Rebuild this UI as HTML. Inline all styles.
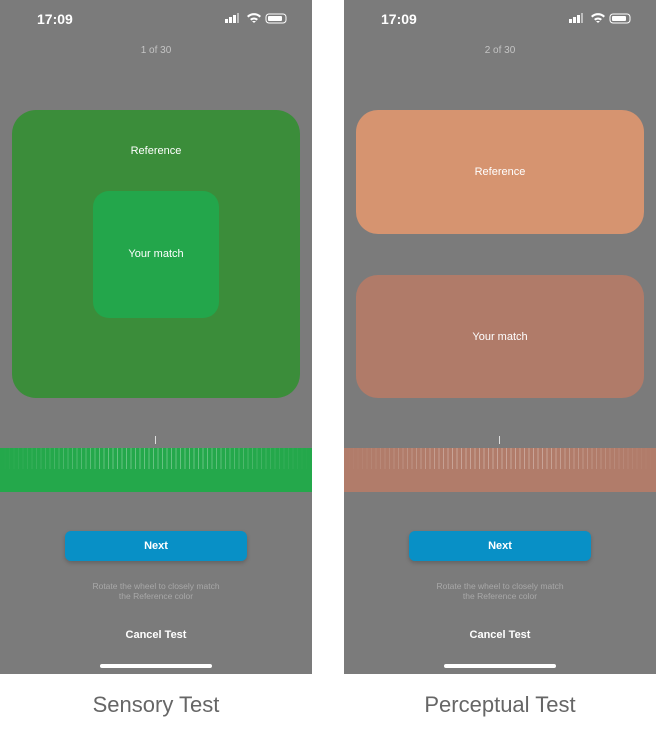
<!DOCTYPE html>
<html><head><style>
body{margin:0;width:656px;height:740px;background:#fff;position:relative;font-family:"Liberation Sans",sans-serif;overflow:hidden}
.ph{position:absolute;top:0;width:312px;height:674px;background:#7b7b7b}
.a{position:absolute}
.c{position:absolute;left:0;width:312px;text-align:center}
.t{left:37px;top:11px;font-size:14px;color:#fff;font-weight:bold}
.band{position:absolute;left:0;top:448px;width:312px;height:44px}
.ticks{position:absolute;left:0;top:0;width:312px;height:21px;
background-image:repeating-linear-gradient(90deg,rgba(255,255,255,.3) 0 1px,transparent 1px 4.5px);
-webkit-mask-image:linear-gradient(90deg,transparent 0,#000 35%,#000 65%,transparent 100%);mask-image:linear-gradient(90deg,transparent 0,#000 35%,#000 65%,transparent 100%)}
.btn{position:absolute;left:65px;top:531px;width:182px;height:30px;background:#0890c6;border-radius:6px;color:#fff;font-size:11px;font-weight:bold;text-align:center;line-height:30px;box-shadow:0 2px 4px rgba(0,0,0,.2)}
.hint{top:581px;font-size:8.5px;color:#a8a8a8;line-height:10px}
.cancel{top:629px;font-size:11px;color:#fff;font-weight:bold}
.home{position:absolute;left:100px;top:664px;width:112px;height:4px;border-radius:2px;background:#fff}
.cnt{top:45px;font-size:10px;color:#c4c4c4}
.lbl{font-size:11px;color:#fff;text-align:center;position:absolute;width:100%}
.cap{position:absolute;top:692px;font-size:22px;color:#666;width:312px;text-align:center}
.icons{position:absolute;left:225px;top:12px}
</style></head><body>
<div class="ph" style="left:0">
 <div class="a t">17:09</div>
 <svg class="icons" width="64" height="14"><g fill="#fff"><rect x="0" y="7" width="3" height="4"/><rect x="4" y="5" width="3" height="6"/><rect x="8" y="3" width="3" height="8"/><rect x="12" y="1" width="2" height="10" opacity=".5"/><path d="M22 4 a10 10 0 0 1 14 0 l-1.5 1.5 a8 8 0 0 0 -11 0z M25 7 a6 6 0 0 1 8 0 l-1.5 1.5 a4 4 0 0 0 -5 0z M29 11 l2 -2 -4 0z"/><rect x="41" y="2" width="20" height="9" rx="3" fill="none" stroke="#fff"/><rect x="43" y="4" width="14" height="5" rx="1"/></g></svg>
 <div class="c cnt">1 of 30</div>
 <div class="a" style="left:12px;top:110px;width:288px;height:288px;border-radius:24px;background:#3b8d3a">
  <div class="lbl" style="top:35px">Reference</div>
  <div class="a" style="left:81px;top:81px;width:126px;height:127px;border-radius:16px;background:#23a64b"><div class="lbl" style="top:57px">Your match</div></div>
 </div>
 <div class="a" style="left:155px;top:436px;width:1px;height:8px;background:#ddd"></div>
 <div class="band" style="background-color:#24a84b"><div class="ticks"></div></div>
 <div class="btn">Next</div>
 <div class="c hint">Rotate the wheel to closely match<br>the Reference color</div>
 <div class="c cancel">Cancel Test</div>
 <div class="home"></div>
</div>
<div class="ph" style="left:344px">
 <div class="a t">17:09</div>
 <svg class="icons" width="64" height="14"><g fill="#fff"><rect x="0" y="7" width="3" height="4"/><rect x="4" y="5" width="3" height="6"/><rect x="8" y="3" width="3" height="8"/><rect x="12" y="1" width="2" height="10" opacity=".5"/><path d="M22 4 a10 10 0 0 1 14 0 l-1.5 1.5 a8 8 0 0 0 -11 0z M25 7 a6 6 0 0 1 8 0 l-1.5 1.5 a4 4 0 0 0 -5 0z M29 11 l2 -2 -4 0z"/><rect x="41" y="2" width="20" height="9" rx="3" fill="none" stroke="#fff"/><rect x="43" y="4" width="14" height="5" rx="1"/></g></svg>
 <div class="c cnt">2 of 30</div>
 <div class="a" style="left:12px;top:110px;width:288px;height:124px;border-radius:22px;background:#d69470"><div class="lbl" style="top:56px">Reference</div></div>
 <div class="a" style="left:12px;top:275px;width:288px;height:123px;border-radius:22px;background:#b07b69"><div class="lbl" style="top:56px">Your match</div></div>
 <div class="a" style="left:155px;top:436px;width:1px;height:8px;background:#ddd"></div>
 <div class="band" style="background-color:#b17c6a"><div class="ticks"></div></div>
 <div class="btn">Next</div>
 <div class="c hint">Rotate the wheel to closely match<br>the Reference color</div>
 <div class="c cancel">Cancel Test</div>
 <div class="home"></div>
</div>
<div class="cap" style="left:0">Sensory Test</div>
<div class="cap" style="left:344px">Perceptual Test</div>
</body></html>
